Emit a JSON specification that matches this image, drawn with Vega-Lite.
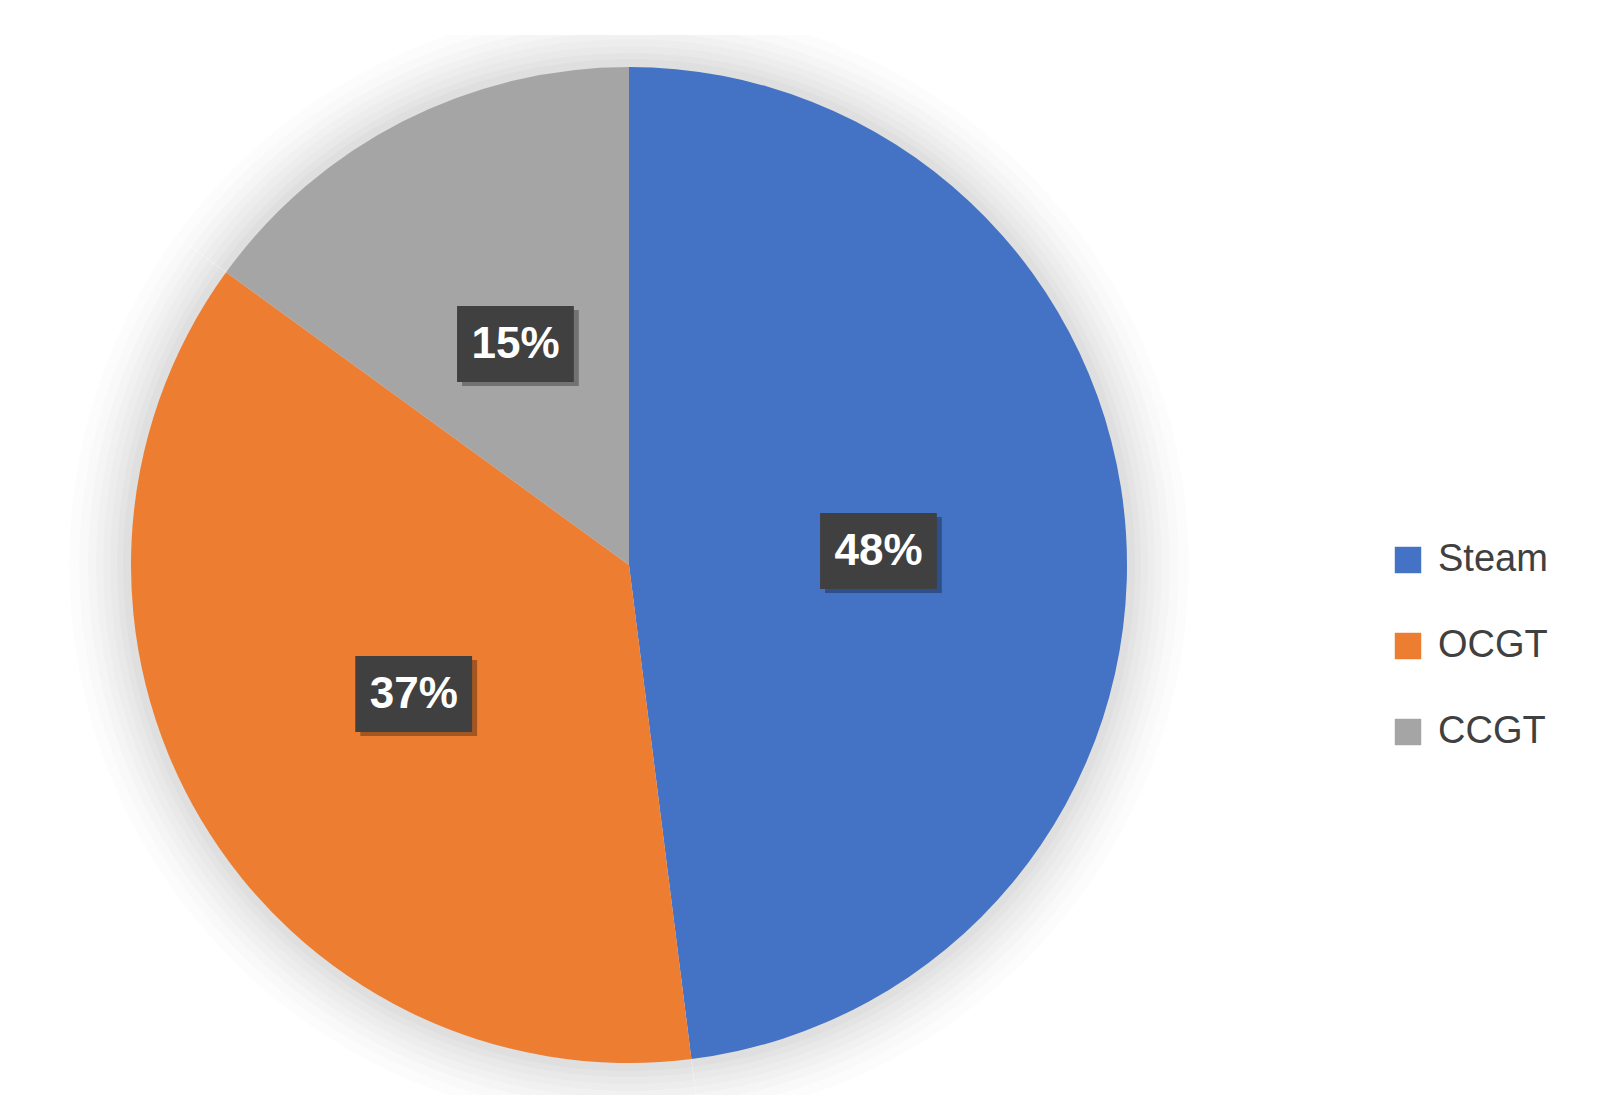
{
  "$schema": "https://vega.github.io/schema/vega-lite/v6.json",
  "width": 1248,
  "height": 1060,
  "padding": {"left": 5, "top": 35, "right": 5, "bottom": 3},
  "background": "white",
  "config": {"view": {"stroke": null}},
  "data": {
    "values": [
      {"source": "Steam", "share": 0.48},
      {"source": "OCGT", "share": 0.37},
      {"source": "CCGT", "share": 0.15}
    ]
  },
  "encoding": {
    "theta": {"field": "share", "type": "quantitative", "stack": true},
    "order": {"field": "share", "type": "quantitative", "sort": "descending"}
  },
  "layer": [
    {"mark": {"type": "arc", "outerRadius": 560, "color": "#000000", "opacity": 0.012, "strokeWidth": 0, "clip": true}},
    {"mark": {"type": "arc", "outerRadius": 550, "color": "#000000", "opacity": 0.012, "strokeWidth": 0, "clip": true}},
    {"mark": {"type": "arc", "outerRadius": 541, "color": "#000000", "opacity": 0.014, "strokeWidth": 0, "clip": true}},
    {"mark": {"type": "arc", "outerRadius": 533, "color": "#000000", "opacity": 0.014, "strokeWidth": 0, "clip": true}},
    {"mark": {"type": "arc", "outerRadius": 526, "color": "#000000", "opacity": 0.016, "strokeWidth": 0, "clip": true}},
    {"mark": {"type": "arc", "outerRadius": 519, "color": "#000000", "opacity": 0.016, "strokeWidth": 0, "clip": true}},
    {"mark": {"type": "arc", "outerRadius": 512, "color": "#000000", "opacity": 0.018, "strokeWidth": 0, "clip": true}},
    {"mark": {"type": "arc", "outerRadius": 506, "color": "#000000", "opacity": 0.018, "strokeWidth": 0, "clip": true}},
    {
      "mark": {"type": "arc", "outerRadius": 498, "strokeWidth": 0},
      "encoding": {
        "color": {
          "field": "source",
          "type": "nominal",
          "scale": {"domain": ["Steam", "OCGT", "CCGT"], "range": ["#4472C4", "#ED7D31", "#A5A5A5"]},
          "legend": {
            "title": null,
            "orient": "none",
            "legendX": 1384,
            "legendY": 506,
            "symbolType": "square",
            "symbolSize": 700,
            "symbolStrokeWidth": 0,
            "labelFont": "Liberation Sans",
            "labelFontSize": 38,
            "labelColor": "#404040",
            "labelOffset": 11,
            "rowPadding": 48
          }
        }
      }
    },
    {
      "mark": {"type": "text", "radius": 250, "text": "███", "font": "DejaVu Sans Mono", "fontSize": 64, "color": "#000000", "opacity": 0.3, "baseline": "middle", "dx": 5, "dy": 9}
    },
    {
      "mark": {"type": "text", "radius": 250, "text": "███", "font": "DejaVu Sans Mono", "fontSize": 64, "color": "#404040", "baseline": "middle", "dy": 5}
    },
    {
      "mark": {"type": "text", "radius": 250, "font": "Liberation Sans", "fontWeight": "bold", "fontSize": 44, "color": "#ffffff", "baseline": "middle", "dy": 3},
      "encoding": {
        "text": {"field": "share", "type": "quantitative", "format": ".0%"}
      }
    }
  ]
}
